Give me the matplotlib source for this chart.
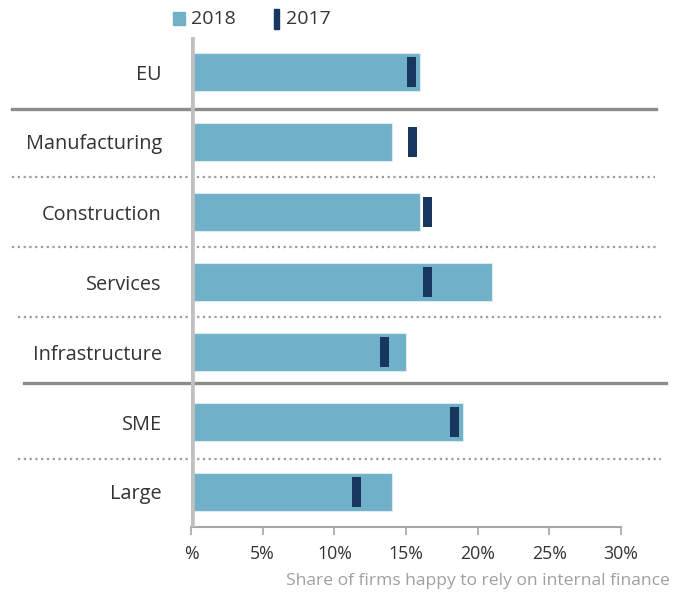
import matplotlib.pyplot as plt
import matplotlib.transforms as mtransforms

plt.rcParams['font.family'] = ['Open Sans', 'DejaVu Sans']

# data
categories = ['EU', 'Manufacturing', 'Construction', 'Services',
              'Infrastructure', 'SME', 'Large']
share_2018 = [16.0, 14.0, 16.0, 21.0, 15.0, 19.0, 14.0]
share_2017 = [15.4, 15.45, 16.5, 16.5, 13.5, 18.4, 11.55]
xticks = [0, 5, 10, 15, 20, 25, 30]
xtick_labels = ['%', '5%', '10%', '15%', '20%', '25%', '30%']

bar_col = '#70b0c8'
mark_col = '#17375e'
txt_col = '#333333'

fig = plt.figure(figsize=(6.73, 5.93), dpi=100)
ax = fig.add_axes([191 / 673, 1 - 527 / 593, 430 / 673, 490 / 593])

ypos = list(range(len(categories)))
ax.barh(ypos, share_2018, height=0.53, color=bar_col,
        edgecolor='#dcebf2', linewidth=0.8, zorder=2)
# 2017 shown as small dark marker bars
ax.barh(ypos, [0.6] * len(ypos), left=[v - 0.3 for v in share_2017],
        height=0.44, color=mark_col, linewidth=0, zorder=3)

ax.set_xlim(0, 30)
ax.set_ylim(6.5, -0.5)

ax.set_yticks(ypos)
ax.set_yticklabels(categories, fontsize=14.3, color=txt_col)
ax.tick_params(axis='y', length=0, pad=21)

ax.set_xticks(xticks)
ax.set_xticklabels(xtick_labels, fontsize=12.8, color=txt_col)
ax.tick_params(axis='x', length=6, width=1.2, color='#a6a6a6', pad=7)

for s in ['top', 'right', 'left']:
    ax.spines[s].set_visible(False)
ax.spines['bottom'].set_color('#a6a6a6')
ax.spines['bottom'].set_linewidth(1.5)

# thick grey zero line
ax.axvline(0, color='#c0c0c0', linewidth=5.5, zorder=4)

# separators between groups
trans = mtransforms.blended_transform_factory(ax.transAxes, ax.transData)
solid_seps = [(0.53, -0.416, 1.081), (4.44, -0.388, 1.105)]
dotted_seps = [(1.5, -0.416, 1.078), (2.5, -0.416, 1.083),
               (3.5, -0.402, 1.094), (5.53, -0.402, 1.094)]
for y, x0, x1 in solid_seps:
    ax.plot([x0, x1], [y, y], color='#8c8c8c', linewidth=2.4,
            transform=trans, clip_on=False, zorder=1)
for y, x0, x1 in dotted_seps:
    ax.plot([x0, x1], [y, y], color='#9a9a9a', linewidth=1.6,
            linestyle=(0, (1, 1.6)), transform=trans, clip_on=False, zorder=1)

fig.text(670 / 673, 1 - 581 / 593, 'Share of firms happy to rely on internal finance',
         ha='right', va='center', fontsize=12.6, color='#a0a0a0')

# legend drawn by hand at the top
fig.patches.append(plt.Rectangle((173 / 673, 1 - 25 / 593), 12 / 673, 13 / 593,
                                 transform=fig.transFigure, color=bar_col))
fig.text(191 / 673, 1 - 19 / 593, '2018', ha='left', va='center',
         fontsize=14, color=txt_col)
fig.patches.append(plt.Rectangle((274 / 673, 1 - 29 / 593), 5 / 673, 20 / 593,
                                 transform=fig.transFigure, color=mark_col))
fig.text(286 / 673, 1 - 19 / 593, '2017', ha='left', va='center',
         fontsize=14, color=txt_col)

fig.savefig('out.png', dpi=100)
